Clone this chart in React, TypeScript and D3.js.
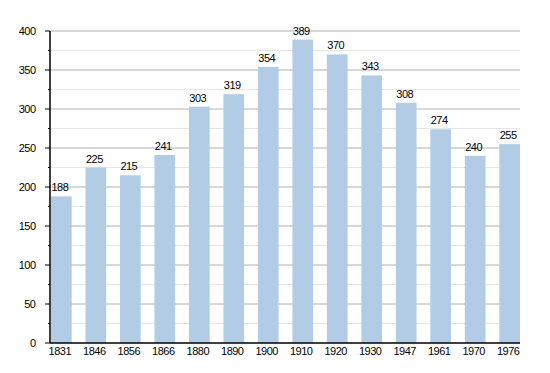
import React from 'react';
import * as d3 from 'd3';

const years = ['1831', '1846', '1856', '1866', '1880', '1890', '1900', '1910', '1920', '1930', '1947', '1961', '1970', '1976'];
const population = [188, 225, 215, 241, 303, 319, 354, 389, 370, 343, 308, 274, 240, 255];
const majorTicks = [0, 50, 100, 150, 200, 250, 300, 350, 400];
const minorTicks = [25, 75, 125, 175, 225, 275, 325, 375];

const App = () => {
    const width = 550;
    const height = 373;
    const left = 50;
    const right = 520;
    const top = 31;
    const bottom = 343;

    const x = d3.scaleBand()
        .domain(years)
        .range([left + 1, right])
        .paddingInner(0.4)
        .paddingOuter(0);

    const y = d3.scaleLinear()
        .domain([0, 400])
        .range([bottom, top]);

    const font = 'Liberation Sans, Arial, sans-serif';
    const textStyle = { letterSpacing: '-0.5px' };

    return (
        <svg width={width} height={height} style={{ position: 'absolute', left: 0, top: 0 }}>
            <rect width={width} height={height} fill="#fff" />
            {/* gridlines */}
            {minorTicks.map(t => (
                <line key={'m' + t} x1={left} x2={right} y1={y(t)} y2={y(t)} stroke="#e6e6e6" strokeWidth={1} />
            ))}
            {majorTicks.filter(t => t > 0).map(t => (
                <line key={'g' + t} x1={left} x2={right} y1={y(t)} y2={y(t)} stroke="#b0b0b0" strokeWidth={1} />
            ))}
            {/* bars */}
            {years.map((yr, i) => (
                <rect key={yr} x={x(yr)} y={y(population[i])} width={x.bandwidth()}
                    height={bottom - y(population[i])} fill="#b3cce5" />
            ))}
            {/* value labels */}
            {years.map((yr, i) => (
                <text key={'v' + yr} x={(x(yr) ?? 0) + x.bandwidth() / 2 - 1.5} y={y(population[i]) - 5}
                    textAnchor="middle" fontFamily={font} fontSize={11} fill="#000" style={textStyle}>{population[i]}</text>
            ))}
            {/* axes */}
            <line x1={left} x2={left} y1={top} y2={bottom} stroke="#000" strokeWidth={1.5} />
            <line x1={left} x2={right} y1={bottom} y2={bottom} stroke="#000" strokeWidth={1.5} />
            {majorTicks.map(t => (
                <g key={'t' + t}>
                    <line x1={left - 5} x2={left} y1={y(t)} y2={y(t)} stroke="#000" />
                    <text x={left - 14.5} y={y(t) + 4} textAnchor="end" fontFamily={font} fontSize={11} fill="#000" style={textStyle}>{t}</text>
                </g>
            ))}
            {minorTicks.map(t => (
                <line key={'mt' + t} x1={left - 2} x2={left} y1={y(t)} y2={y(t)} stroke="#000" />
            ))}
            {years.map(yr => (
                <text key={'x' + yr} x={(x(yr) ?? 0) + x.bandwidth() / 2 - 1.5} y={bottom + 12}
                    textAnchor="middle" fontFamily={font} fontSize={11} fill="#000" style={textStyle}>{yr}</text>
            ))}
        </svg>
    );
};

export default App;
